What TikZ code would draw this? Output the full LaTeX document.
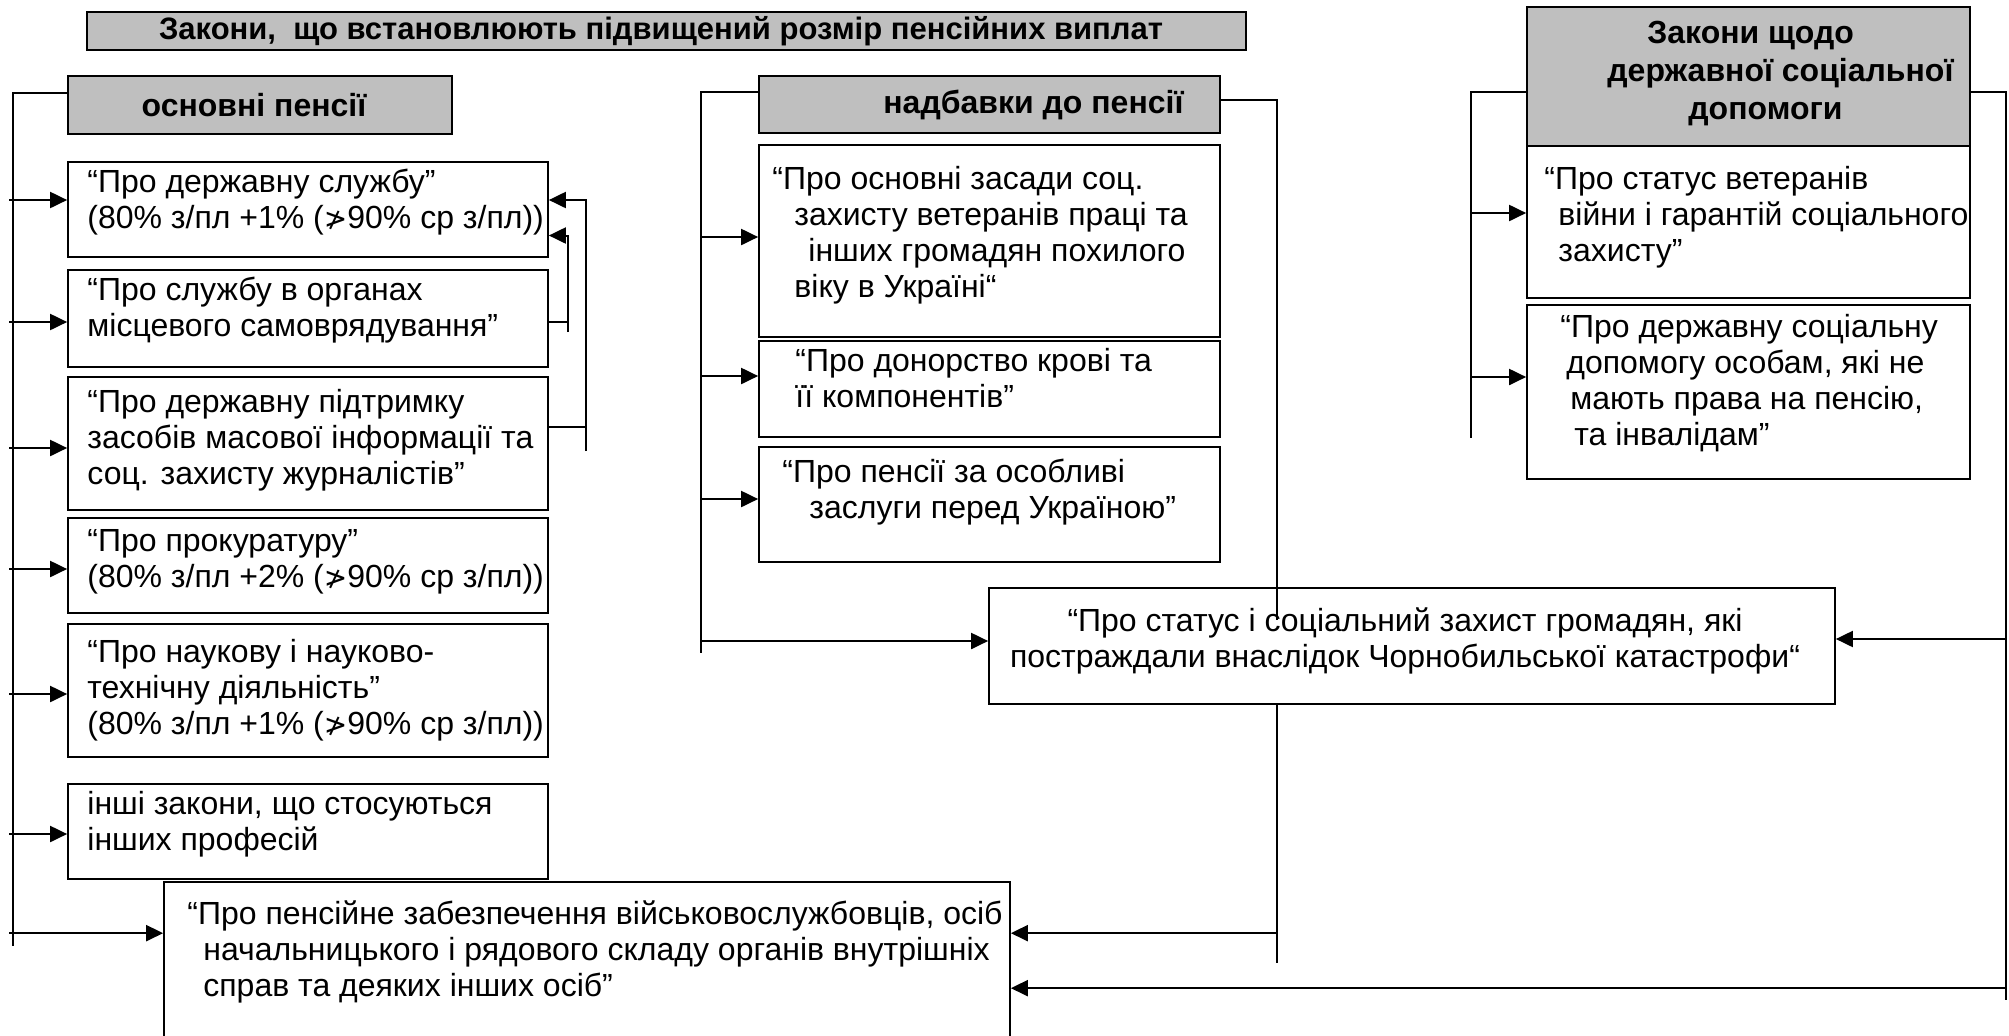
\documentclass[tikz,border=0pt]{standalone}
\usepackage{fontspec}
\setmainfont{Liberation Sans}
\newfontfamily\symfont{DejaVu Sans}
\usetikzlibrary{arrows.meta,fit}

\newcommand{\ngtsign}{{\symfont\fontsize{14}{17}\selectfont ≯}}

\tikzset{
  box/.style={draw, line width=0.85pt, inner sep=0pt},
  hdr/.style={box, fill=black!25},
  txt/.style={anchor=north west, inner sep=0pt, align=left, font=\fontsize{16}{18}\selectfont},
  htxt/.style={inner sep=0pt, align=left, font=\fontsize{16}{19}\selectfont\bfseries},
  con/.style={line width=0.85pt},
  thinline/.style={line width=0.6pt},
  arr/.style={line width=1pt, -{Triangle[length=8.5pt,width=8pt]}},
}

\begin{document}
\begin{tikzpicture}[x=0.5pt,y=0.5pt,yscale=-1]
\path[use as bounding box, clip] (0,0) rectangle (2009,1035);

% headers
\node[hdr, fit={(87,12) (1246,50)}] (title) {};
\node[htxt, font=\fontsize{15.5}{19}\selectfont\bfseries] (titlet) at (661,31) {Закони,\ \ що встановлюють підвищений розмір пенсійних виплат};
\node[hdr, fit={(68,76) (452,134)}] (h1) {};
\node[htxt] (h1t) at (254,105) {основні пенсії};
\node[hdr, fit={(759,76) (1220,133)}] (h2) {};
\node[htxt, anchor=west] (h2t) at (883,105) {надбавки до пенсії};
\node[hdr, fit={(1527,7) (1970,146)}] (h3) {};
\node[htxt, anchor=north west] (h3t) at (1607,21) {\hspace*{20pt}Закони щодо\\державної соціальної\\\hspace*{40.5pt}допомоги};

% left column
\node[box, fit={(68,162) (548,257)}] (l1) {};
\node[txt] (l1t) at (87,169) {“Про державну службу”\\(80\% з/пл +1\% (\ngtsign90\% ср з/пл))};
\node[box, fit={(68,270) (548,367)}] (l2) {};
\node[txt] (l2t) at (87,277) {“Про службу в органах\\місцевого самоврядування”};
\node[box, fit={(68,377) (548,510)}] (l3) {};
\node[txt] (l3t) at (87,389) {“Про державну підтримку\\засобів масової інформації та\\соц. захисту журналістів”};
\node[box, fit={(68,518) (548,613)}] (l4) {};
\node[txt] (l4t) at (87,529) {“Про прокуратуру”\\(80\% з/пл +2\% (\ngtsign90\% ср з/пл))};
\node[box, fit={(68,624) (548,757)}] (l5) {};
\node[txt] (l5t) at (87,639) {“Про наукову і науково-\\технічну діяльність”\\(80\% з/пл +1\% (\ngtsign90\% ср з/пл))};
\node[box, fit={(68,784) (548,879)}] (l6) {};
\node[txt] (l6t) at (87,791) {інші закони, що стосуються\\інших професій};
\node[box, fit={(164,882) (1010,1060)}] (b) {};
\node[txt] (bt) at (187,900) {“Про пенсійне забезпечення військовослужбовців, осіб\\\hspace*{8pt}начальницького і рядового складу органів внутрішніх\\\hspace*{8pt}справ та деяких інших осіб”};

% middle column
\node[box, fit={(759,145) (1220,337)}] (m1) {};
\node[txt] (m1t) at (772,166) {“Про основні засади соц.\\\hspace*{11pt}захисту ветеранів праці та\\\hspace*{18pt}інших громадян похилого\\\hspace*{11pt}віку в Україні“};
\node[box, fit={(759,341) (1220,437)}] (m2) {};
\node[txt] (m2t) at (795,348) {“Про донорство крові та\\її компонентів”};
\node[box, fit={(759,447) (1220,562)}] (m3) {};
\node[txt] (m3t) at (782,459) {“Про пенсії за особливі\\\hspace*{13.5pt}заслуги перед Україною”};
\node[box, fit={(989,588) (1835,704)}] (c) {};
\node[txt, anchor=center, align=center] (ct) at (1405,641) {“Про статус і соціальний захист громадян, які\\постраждали внаслідок Чорнобильської катастрофи“};

% right column
\node[box, fit={(1527,146) (1970,298)}] (r1) {};
\node[txt] (r1t) at (1544,166) {“Про статус ветеранів\\\hspace*{7pt}війни і гарантій соціального\\\hspace*{7pt}захисту”};
\node[box, fit={(1527,305) (1970,479)}] (r2) {};
\node[txt] (r2t) at (1560,314) {“Про державну соціальну\\\hspace*{3pt}допомогу особам, які не\\\hspace*{5pt}мають права на пенсію,\\\hspace*{7pt}та інвалідам”};

% bus lines
\coordinate (ltop) at (13,93);
\coordinate (lbot) at (13,946);
\coordinate (lstub) at (9,0);
\coordinate (mtop) at (701,92);
\coordinate (mbot) at (701,653);
\coordinate (rtop) at (1471,92);
\coordinate (rbot) at (1471,438);
\coordinate (frtop) at (2006,92);
\coordinate (frbot) at (2006,1000);
\coordinate (mr) at (1277,100);
\coordinate (mre) at (1277,620);
\coordinate (cb) at (1277,963);
\coordinate (obr) at (586,451);
\coordinate (ibr) at (568,332);
\coordinate (bl) at ([yshift=26pt]b.north west);
\coordinate (br) at ([yshift=26pt]b.north east);
\coordinate (br2) at ([yshift=53.5pt]b.north east);
\foreach \n/\s in {l1/-4.75pt, l2/1.75pt, l3/2.25pt, l4/1.75pt, l5/1.75pt, l6/1.25pt,
                   m1/-2pt, m2/-6.5pt, m3/-2.75pt, c/-2.5pt, r1/-4.5pt, r2/-7.5pt}
  \coordinate (\n-in) at ([yshift=\s]\n.west);
\coordinate (l1-out) at ([yshift=-4.75pt]l1.east);
\coordinate (l1-low) at ([yshift=13pt]l1.east);
\coordinate (l2-out) at ([yshift=1.75pt]l2.east);
\coordinate (l3-out) at ([yshift=-8.25pt]l3.east);
\coordinate (c-out) at ([yshift=-3.5pt]c.east);

\draw[con] (h1.west |- ltop) -- (ltop) -- (lbot);
\foreach \n in {l1,l2,l3,l4,l5,l6}
  \draw[arr] (lstub |- \n-in) -- (\n-in);
\draw[arr] (lstub |- bl) -- (bl);

% brackets on the right of the left column
\draw[con] (l3-out) -- (obr |- l3-out);
\draw[arr] (obr) -- (obr |- l1-out) -- (l1-out);
\draw[con] (l2-out) -- (ibr |- l2-out);
\draw[arr] (ibr) -- (ibr |- l1-low) -- (l1-low);

% middle column
\draw[con] (h2.west |- mtop) -- (mtop) -- (mbot);
\foreach \n in {m1,m2,m3,c}
  \draw[arr] (mtop |- \n-in) -- (\n-in);
\draw[thinline] (h2.east |- mr) -- (mr) -- (mre);
\draw[thinline] (c.south -| cb) -- (cb);
\draw[arr] (cb |- br) -- (br);

% right column
\draw[con] (h3.west |- rtop) -- (rtop) -- (rbot);
\foreach \n in {r1,r2}
  \draw[arr] (rtop |- \n-in) -- (\n-in);
\draw[con] (h3.east |- frtop) -- (frtop) -- (frbot);
\draw[arr] (frtop |- c-out) -- (c-out);
\draw[arr] (frtop |- br2) -- (br2);
\end{tikzpicture}
\end{document}
